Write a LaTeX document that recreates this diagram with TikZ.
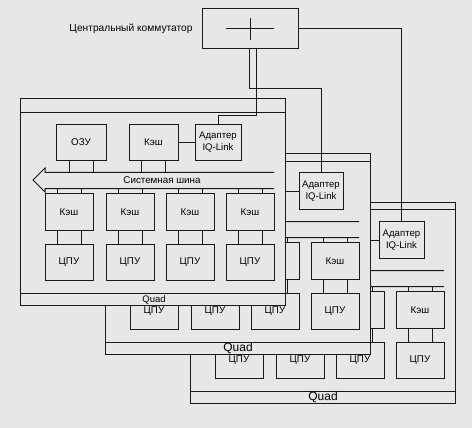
\documentclass[tikz,border=0pt]{standalone}
\usepackage{fontspec}
\setmainfont{Liberation Sans}
\definecolor{bg}{RGB}{231,231,233}
\definecolor{ink}{RGB}{25,25,25}
\tikzset{
  wire/.style={draw=ink, line width=1pt},
  frame/.style={draw=ink, fill=bg, line width=1pt, inner sep=0pt},
  box/.style={draw=ink, fill=bg, line width=1pt, inner sep=0pt,
    minimum width=48pt, minimum height=36.5pt,
    font=\fontsize{9.8}{12}\selectfont, align=center},
  adapter/.style={box, font=\fontsize{9.6}{12}\selectfont},
  quadlbl/.style={inner sep=0pt, font=\fontsize{12}{12}\selectfont},
}
% two vertical links between a box above (#1) and a box below (#2)
\newcommand{\vlink}[2]{%
  \draw[wire] ([xshift=-12]#1.south) -- ([xshift=-12]#2.north);
  \draw[wire] ([xshift=12]#1.south) -- ([xshift=12]#2.north);}
% two links from the top of box #1 up to the bus line through #2
\newcommand{\uplink}[2]{%
  \path ([xshift=-12]#1.north) coordinate (tmpa) ([xshift=12]#1.north) coordinate (tmpb);
  \draw[wire] (tmpa) -- (tmpa |- #2);
  \draw[wire] (tmpb) -- (tmpb |- #2);}
% two links from the bottom of box #1 down to the bus line through #2
\newcommand{\downlink}[2]{%
  \path ([xshift=-12]#1.south) coordinate (tmpa) ([xshift=12]#1.south) coordinate (tmpb);
  \draw[wire] (tmpa) -- (tmpa |- #2);
  \draw[wire] (tmpb) -- (tmpb |- #2);}
\begin{document}
\begin{tikzpicture}[x=1pt,y=-1pt]
\fill[bg] (0,0) rectangle (472,428);
\useasboundingbox (0,0) rectangle (472,428);

% ---------------- Quad 3 (back) ----------------
\node[frame, minimum width=265pt, minimum height=201pt] (qc) at (322.5,302.5) {};
\draw[wire] (190,209.5) -- (455,209.5);
\draw[wire] (190,391.5) -- (455,391.5);
\draw[wire] (444,270.5) -- (215,270.5) -- (215,266) -- (203,278) -- (215,290) -- (215,286.5) -- (444,286.5);
\coordinate (qcbb) at (0,286.5);
\node[box] (qcc3) at (360,310) {};
\node[box] (qcc4) at (420,310) {Кэш};
\node[box] (qcp1) at (239,360.5) {ЦПУ};
\node[box] (qcp2) at (300,360.5) {ЦПУ};
\node[box] (qcp3) at (360,360.5) {ЦПУ};
\node[box] (qcp4) at (420,360.5) {ЦПУ};
\uplink{qcc3}{qcbb}
\uplink{qcc4}{qcbb}
\vlink{qcc3}{qcp3}
\vlink{qcc4}{qcp4}
\node[adapter, minimum width=45pt] (qcad) at (401.5,240) {Адаптер\\IQ-Link};
\coordinate (qctc) at (348,240);
\draw[wire] (qcad.west) -- (qctc);
\node[quadlbl] (qclbl) at (323,397) {Quad};

% ---------------- Quad 2 (middle) ----------------
\node[frame, minimum width=265pt, minimum height=200pt] (qb) at (237.5,254) {};
\draw[wire] (105,161.5) -- (370,161.5);
\draw[wire] (105,342.5) -- (370,342.5);
\draw[wire] (359,221.5) -- (130,221.5) -- (130,217) -- (118,229) -- (130,241) -- (130,237.5) -- (359,237.5);
\coordinate (qbbb) at (0,237.5);
\node[box] (qbc3) at (275,261) {};
\node[box] (qbc4) at (335,261) {Кэш};
\node[box] (qbp1) at (154,311.5) {ЦПУ};
\node[box] (qbp2) at (215,311.5) {ЦПУ};
\node[box] (qbp3) at (275,311.5) {ЦПУ};
\node[box] (qbp4) at (335,311.5) {ЦПУ};
\uplink{qbc3}{qbbb}
\uplink{qbc4}{qbbb}
\vlink{qbc3}{qbp3}
\vlink{qbc4}{qbp4}
\node[adapter, minimum width=44pt] (qbad) at (321,191) {Адаптер\\IQ-Link};
\coordinate (qbtc) at (263,191);
\draw[wire] (qbad.west) -- (qbtc);
\node[quadlbl] (qblbl) at (238,348.5) {Quad};

% ---------------- Quad 1 (front) ----------------
\node[frame, minimum width=265pt, minimum height=206pt] (qa) at (152.5,202) {};
\draw[wire] (20,112.5) -- (285,112.5);
\draw[wire] (20,293.5) -- (285,293.5);
\draw[wire] (274,172.5) -- (45,172.5) -- (45,168) -- (33,180) -- (45,192) -- (45,188.5) -- (274,188.5);
\coordinate (qabt) at (0,172.5);
\coordinate (qabb) at (0,188.5);
\node[font=\fontsize{9.8}{12}\selectfont, inner sep=0pt] (qabus) at (162,180.5) {Системная шина};
\node[box, minimum width=50pt] (qaram) at (81,142.5) {ОЗУ};
\node[box, minimum width=49pt] (qatc) at (153.5,142.5) {Кэш};
\node[adapter, minimum width=46pt] (qaad) at (218,142.5) {Адаптер\\IQ-Link};
\draw[wire] (qatc.east) -- (qaad.west);
\downlink{qaram}{qabt}
\downlink{qatc}{qabt}
\foreach \i/\x in {1/69,2/130,3/190,4/250}{
  \node[box] (qac\i) at (\x,212) {Кэш};
  \node[box] (qap\i) at (\x,262.5) {ЦПУ};
  \uplink{qac\i}{qabb}
  \vlink{qac\i}{qap\i}
}
\node[inner sep=0pt, font=\fontsize{9.5}{10}\selectfont] (qalbl) at (154,299.5) {Quad};

% ---------------- Central switch ----------------
\node[frame, minimum width=96pt, minimum height=40pt] (sw) at (250,29) {};
\draw[wire] ([xshift=-24]sw.center) -- ([xshift=24]sw.center);
\draw[wire] ([yshift=-11]sw.center) -- ([yshift=11]sw.center);
\node[inner sep=0pt, font=\fontsize{10.2}{12}\selectfont] (swlbl) at (131,29) {Центральный коммутатор};

% wires from the switch to the adapters
\draw[wire] ([xshift=6]sw.south) -- ++(0,66) -| (qaad.north);
\draw[wire] ([xshift=-1]sw.south) -- ++(0,39) -| (qbad.north);
\draw[wire] (sw.east) -| (qcad.north);
\end{tikzpicture}
\end{document}
